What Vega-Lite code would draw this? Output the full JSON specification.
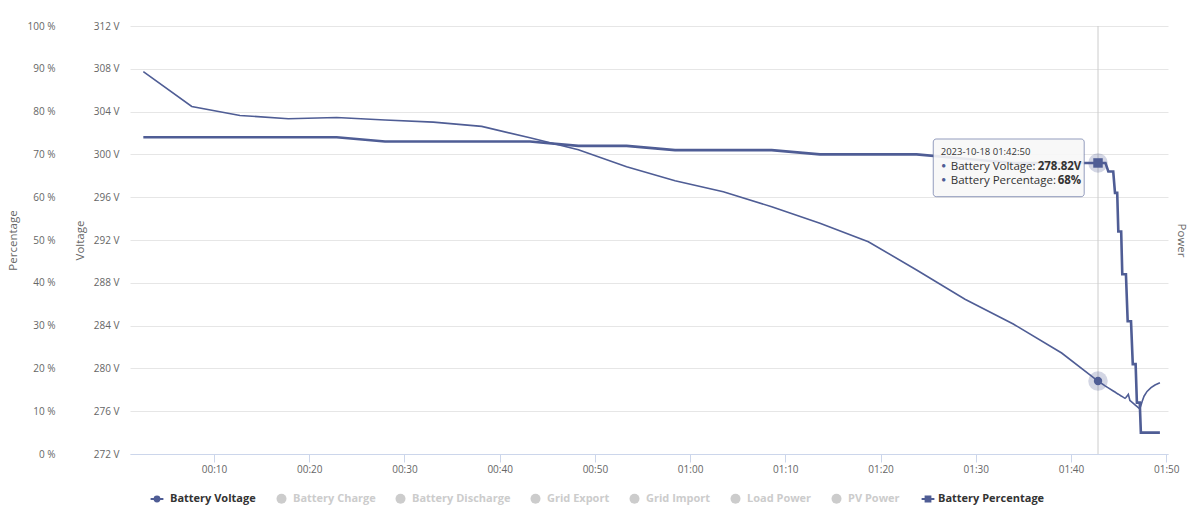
{
  "$schema": "https://vega.github.io/schema/vega-lite/v6.json",
  "width": 1038,
  "height": 428,
  "autosize": {"type": "none"},
  "padding": {"left": 130, "top": 26, "right": 36, "bottom": 75},
  "config": {
    "view": {"stroke": null},
    "axis": {
      "labelFont": "Open Sans",
      "labelFontSize": 10,
      "labelColor": "#666666",
      "titleFont": "Open Sans",
      "titleFontSize": 11.5,
      "titleFontWeight": "normal",
      "titleColor": "#666666"
    },
    "legend": {
      "labelFont": "Open Sans",
      "labelFontSize": 11,
      "labelFontWeight": "bold",
      "labelLimit": 300,
      "padding": 0,
      "direction": "horizontal",
      "orient": "none"
    }
  },
  "datasets": {
    "battery": [
      {"t": "2023-10-18T00:02:35Z", "v": 307.74, "p": 74},
      {"t": "2023-10-18T00:07:40Z", "v": 304.48, "p": 74},
      {"t": "2023-10-18T00:12:44Z", "v": 303.64, "p": 74},
      {"t": "2023-10-18T00:17:49Z", "v": 303.33, "p": 74},
      {"t": "2023-10-18T00:22:53Z", "v": 303.45, "p": 74},
      {"t": "2023-10-18T00:27:58Z", "v": 303.21, "p": 73},
      {"t": "2023-10-18T00:33:02Z", "v": 303.02, "p": 73},
      {"t": "2023-10-18T00:38:07Z", "v": 302.62, "p": 73},
      {"t": "2023-10-18T00:43:11Z", "v": 301.55, "p": 73},
      {"t": "2023-10-18T00:48:16Z", "v": 300.44, "p": 72},
      {"t": "2023-10-18T00:53:20Z", "v": 298.85, "p": 72},
      {"t": "2023-10-18T00:58:25Z", "v": 297.54, "p": 71},
      {"t": "2023-10-18T01:03:29Z", "v": 296.51, "p": 71},
      {"t": "2023-10-18T01:08:34Z", "v": 295.11, "p": 71},
      {"t": "2023-10-18T01:13:38Z", "v": 293.56, "p": 70},
      {"t": "2023-10-18T01:18:43Z", "v": 291.84, "p": 70},
      {"t": "2023-10-18T01:23:47Z", "v": 289.2, "p": 70},
      {"t": "2023-10-18T01:28:52Z", "v": 286.46, "p": 69},
      {"t": "2023-10-18T01:33:56Z", "v": 284.15, "p": 68},
      {"t": "2023-10-18T01:39:01Z", "v": 281.44, "p": 68},
      {"t": "2023-10-18T01:42:50Z", "v": 278.82, "p": 68},
      {"t": "2023-10-18T01:43:37Z", "v": 278.34, "p": 68},
      {"t": "2023-10-18T01:43:55Z", "v": 278.18, "p": 66},
      {"t": "2023-10-18T01:44:26Z", "v": 277.89, "p": 66},
      {"t": "2023-10-18T01:44:37Z", "v": 277.79, "p": 61},
      {"t": "2023-10-18T01:44:51Z", "v": 277.65, "p": 61},
      {"t": "2023-10-18T01:44:58Z", "v": 277.59, "p": 52},
      {"t": "2023-10-18T01:45:16Z", "v": 277.42, "p": 52},
      {"t": "2023-10-18T01:45:23Z", "v": 277.36, "p": 42},
      {"t": "2023-10-18T01:45:40Z", "v": 277.2, "p": null},
      {"t": "2023-10-18T01:45:46Z", "v": 277.28, "p": 42},
      {"t": "2023-10-18T01:45:57Z", "v": 277.5, "p": 31},
      {"t": "2023-10-18T01:46:01Z", "v": 277.58, "p": null},
      {"t": "2023-10-18T01:46:11Z", "v": 277.0, "p": null},
      {"t": "2023-10-18T01:46:18Z", "v": 276.92, "p": 31},
      {"t": "2023-10-18T01:46:29Z", "v": 276.78, "p": 21},
      {"t": "2023-10-18T01:46:47Z", "v": 276.55, "p": 21},
      {"t": "2023-10-18T01:46:55Z", "v": 276.45, "p": 12},
      {"t": "2023-10-18T01:47:13Z", "v": 276.22, "p": 12},
      {"t": "2023-10-18T01:47:20Z", "v": 276.5, "p": 5},
      {"t": "2023-10-18T01:47:28Z", "v": 276.9, "p": null},
      {"t": "2023-10-18T01:47:40Z", "v": 277.4, "p": null},
      {"t": "2023-10-18T01:47:59Z", "v": 277.85, "p": null},
      {"t": "2023-10-18T01:48:24Z", "v": 278.2, "p": null},
      {"t": "2023-10-18T01:48:49Z", "v": 278.45, "p": null},
      {"t": "2023-10-18T01:49:20Z", "v": 278.65, "p": 5}
    ],
    "hover": [
      {"t": "2023-10-18T01:42:50Z", "v": 278.82, "p": 68}
    ],
    "tipbox": [
      {"t": "2023-10-18T01:25:32Z", "t2": "2023-10-18T01:41:23Z", "p": 73.6, "p2": 60.12}
    ],
    "tip": [
      {"t": "2023-10-18T01:26:19Z", "p": 69.86, "kind": "header", "label": "2023-10-18 01:42:50"},
      {"t": "2023-10-18T01:26:38Z", "p": 67.29, "kind": "bullet", "label": "●"},
      {"t": "2023-10-18T01:26:38Z", "p": 64.02, "kind": "bullet", "label": "●"},
      {"t": "2023-10-18T01:27:22Z", "p": 66.36, "kind": "name", "label": "Battery Voltage:"},
      {"t": "2023-10-18T01:27:22Z", "p": 63.08, "kind": "name", "label": "Battery Percentage:"},
      {"t": "2023-10-18T01:36:30Z", "p": 66.36, "kind": "value", "label": "278.82V"},
      {"t": "2023-10-18T01:38:36Z", "p": 63.08, "kind": "value", "label": "68%"}
    ]
  },
  "encoding": {
    "x": {
      "field": "t",
      "type": "temporal",
      "scale": {
        "type": "utc",
        "domain": [
          {"year": 2023, "month": 10, "date": 18, "hours": 0, "minutes": 1, "seconds": 11, "utc": true},
          {"year": 2023, "month": 10, "date": 18, "hours": 1, "minutes": 50, "seconds": 11, "utc": true}
        ]
      },
      "axis": {
        "title": null,
        "format": "%H:%M",
        "values": [
          {"year": 2023, "month": 10, "date": 18, "hours": 0, "minutes": 10, "utc": true},
          {"year": 2023, "month": 10, "date": 18, "hours": 0, "minutes": 20, "utc": true},
          {"year": 2023, "month": 10, "date": 18, "hours": 0, "minutes": 30, "utc": true},
          {"year": 2023, "month": 10, "date": 18, "hours": 0, "minutes": 40, "utc": true},
          {"year": 2023, "month": 10, "date": 18, "hours": 0, "minutes": 50, "utc": true},
          {"year": 2023, "month": 10, "date": 18, "hours": 1, "minutes": 0, "utc": true},
          {"year": 2023, "month": 10, "date": 18, "hours": 1, "minutes": 10, "utc": true},
          {"year": 2023, "month": 10, "date": 18, "hours": 1, "minutes": 20, "utc": true},
          {"year": 2023, "month": 10, "date": 18, "hours": 1, "minutes": 30, "utc": true},
          {"year": 2023, "month": 10, "date": 18, "hours": 1, "minutes": 40, "utc": true},
          {"year": 2023, "month": 10, "date": 18, "hours": 1, "minutes": 50, "utc": true}
        ],
        "grid": false,
        "domainColor": "#ccd6eb",
        "tickColor": "#ccd6eb",
        "tickSize": 8,
        "labelPadding": 2,
        "labelFlush": false
      }
    }
  },
  "layer": [
    {
      "data": {"name": "hover"},
      "mark": {"type": "rule", "color": "#cccccc", "strokeWidth": 1},
      "encoding": {}
    },
    {
      "layer": [
        {
          "data": {"name": "battery"},
          "transform": [{"filter": "isValid(datum.v)"}],
          "mark": {"type": "line", "strokeWidth": 1.6},
          "encoding": {
            "y": {
              "field": "v",
              "type": "quantitative",
              "scale": {"domain": [272, 312], "nice": false, "zero": false},
              "axis": {
                "orient": "left",
                "title": "Voltage",
                "values": [272, 276, 280, 284, 288, 292, 296, 300, 304, 308, 312],
                "labelExpr": "datum.value + ' V'",
                "grid": true,
                "gridColor": "#e6e6e6",
                "domain": false,
                "ticks": false,
                "labelPadding": 11,
                "titlePadding": 8
              }
            },
            "stroke": {
              "datum": "Battery Voltage",
              "type": "nominal",
              "scale": {"domain": ["Battery Voltage"], "range": ["#4f5d95"]},
              "legend": {
                "orient": "none",
                "legendX": 18,
                "legendY": 464,
                "direction": "horizontal",
                "title": null,
                "symbolType": "M-0.8,0L0.8,0M-0.3,0A0.3,0.3,0,1,1,0.3,0A0.3,0.3,0,1,1,-0.3,0Z",
                "symbolSize": 256,
                "symbolStrokeWidth": 2,
                "symbolFillColor": "#4f5d95",
                "labelColor": "#333333",
                "labelOffset": 4
              }
            }
          }
        },
        {
          "data": {"name": "hover"},
          "mark": {"type": "point", "shape": "circle", "filled": true, "size": 380, "opacity": 0.25, "color": "#4f5d95"},
          "encoding": {"y": {"field": "v", "type": "quantitative"}}
        },
        {
          "data": {"name": "hover"},
          "mark": {"type": "point", "shape": "circle", "filled": true, "size": 70, "opacity": 1, "color": "#4f5d95"},
          "encoding": {"y": {"field": "v", "type": "quantitative"}}
        }
      ]
    },
    {
      "layer": [
        {
          "data": {"name": "battery"},
          "transform": [{"filter": "isValid(datum.p)"}],
          "mark": {"type": "line", "strokeWidth": 2.6},
          "encoding": {
            "y": {
              "field": "p",
              "type": "quantitative",
              "scale": {"domain": [0, 100], "nice": false},
              "axis": {
                "orient": "left",
                "offset": 64,
                "title": "Percentage",
                "values": [0, 10, 20, 30, 40, 50, 60, 70, 80, 90, 100],
                "labelExpr": "datum.value + ' %'",
                "grid": false,
                "domain": false,
                "ticks": false,
                "labelPadding": 11,
                "titlePadding": 8
              }
            },
            "color": {
              "datum": "Battery Percentage",
              "type": "nominal",
              "scale": {"domain": ["Battery Percentage"], "range": ["#4f5d95"]},
              "legend": {
                "orient": "none",
                "legendX": 789,
                "legendY": 464,
                "direction": "horizontal",
                "title": null,
                "symbolType": "M-0.8,0L0.8,0M-0.3,-0.3L0.3,-0.3L0.3,0.3L-0.3,0.3Z",
                "symbolSize": 256,
                "symbolStrokeWidth": 2,
                "symbolFillColor": "#4f5d95",
                "labelColor": "#333333",
                "labelOffset": 1
              }
            }
          }
        },
        {
          "data": {"name": "hover"},
          "mark": {"type": "point", "shape": "circle", "filled": true, "size": 380, "opacity": 0.25, "color": "#4f5d95"},
          "encoding": {"y": {"field": "p", "type": "quantitative"}}
        },
        {
          "data": {"name": "hover"},
          "mark": {"type": "point", "shape": "square", "filled": true, "size": 90, "opacity": 1, "color": "#4f5d95"},
          "encoding": {"y": {"field": "p", "type": "quantitative"}}
        },
        {
          "data": {"name": "tipbox"},
          "mark": {"type": "rect", "fill": "#f7f7f7", "fillOpacity": 0.9, "stroke": "#4f5d95", "strokeOpacity": 0.6, "strokeWidth": 1, "cornerRadius": 3},
          "encoding": {
            "x2": {"field": "t2"},
            "y": {"field": "p", "type": "quantitative"},
            "y2": {"field": "p2"}
          }
        },
        {
          "data": {"name": "tip"},
          "transform": [{"filter": "datum.kind === 'header'"}],
          "mark": {"type": "text", "align": "left", "baseline": "alphabetic", "font": "Open Sans", "fontSize": 9.5, "color": "#333333"},
          "encoding": {"y": {"field": "p", "type": "quantitative"}, "text": {"field": "label"}}
        },
        {
          "data": {"name": "tip"},
          "transform": [{"filter": "datum.kind === 'bullet'"}],
          "mark": {"type": "text", "align": "center", "baseline": "middle", "font": "Open Sans", "fontSize": 8, "color": "#4f5d95"},
          "encoding": {"y": {"field": "p", "type": "quantitative"}, "text": {"field": "label"}}
        },
        {
          "data": {"name": "tip"},
          "transform": [{"filter": "datum.kind === 'name'"}],
          "mark": {"type": "text", "align": "left", "baseline": "alphabetic", "font": "Open Sans", "fontSize": 11.5, "color": "#333333"},
          "encoding": {"y": {"field": "p", "type": "quantitative"}, "text": {"field": "label"}}
        },
        {
          "data": {"name": "tip"},
          "transform": [{"filter": "datum.kind === 'value'"}],
          "mark": {"type": "text", "align": "left", "baseline": "alphabetic", "font": "Open Sans", "fontSize": 11.5, "fontWeight": "bold", "color": "#333333"},
          "encoding": {"y": {"field": "p", "type": "quantitative"}, "text": {"field": "label"}}
        }
      ]
    },
    {
      "data": {"name": "hover"},
      "mark": {"type": "point", "opacity": 0, "filled": true},
      "encoding": {
        "y": {
          "datum": 0,
          "type": "quantitative",
          "scale": {"domain": [0, 1]},
          "axis": {
            "orient": "right",
            "title": "Power",
            "labels": false,
            "ticks": false,
            "domain": false,
            "grid": false,
            "titlePadding": 7
          }
        },
        "fill": {
          "datum": "Battery Charge",
          "type": "nominal",
          "scale": {
            "domain": ["Battery Charge", "Battery Discharge", "Grid Export", "Grid Import", "Load Power", "PV Power"],
            "range": ["#cccccc", "#cccccc", "#cccccc", "#cccccc", "#cccccc", "#cccccc"]
          },
          "legend": {
            "orient": "none",
            "legendX": 146,
            "legendY": 467,
            "direction": "horizontal",
            "title": null,
            "symbolType": "circle",
            "symbolSize": 100,
            "symbolOpacity": 1,
            "symbolStrokeWidth": 0,
            "labelColor": "#cccccc",
            "labelOffset": 6,
            "columnPadding": 19
          }
        }
      }
    }
  ],
  "resolve": {"scale": {"y": "independent"}}
}
